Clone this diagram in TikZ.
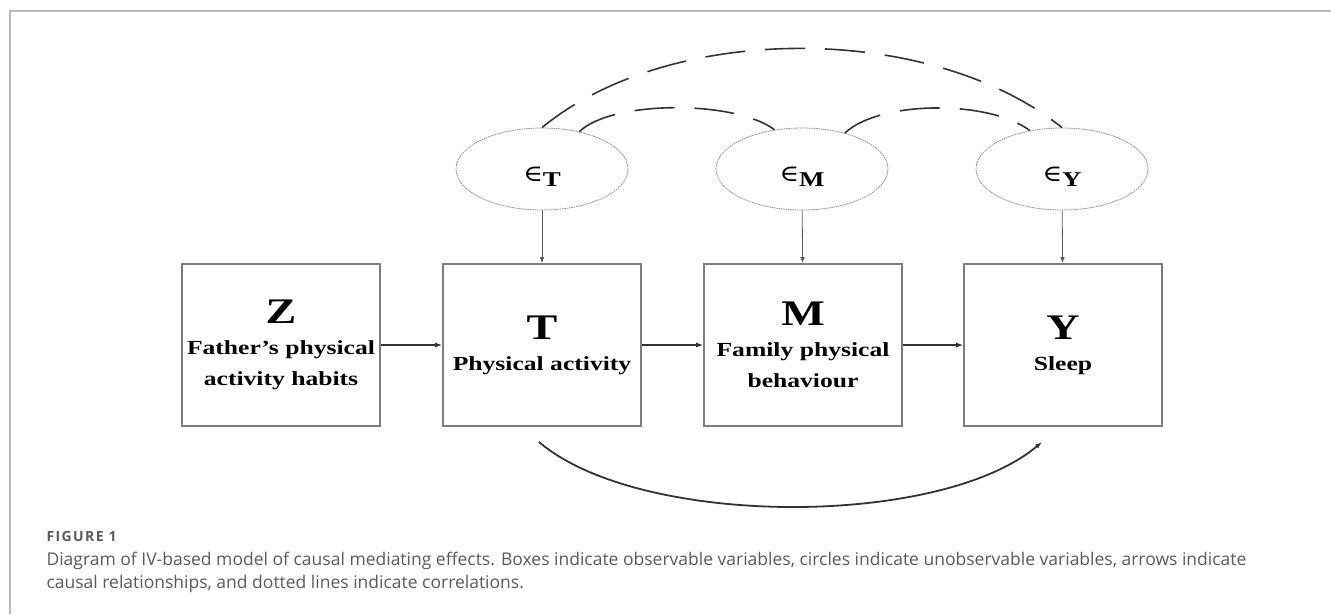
\documentclass[tikz,border=0pt]{standalone}
\usepackage{fontspec}
\setmainfont{Liberation Serif}
\newfontfamily\capfont{Open Sans}
\newfontfamily\labfont{Open Sans}[LetterSpace=10]
\newfontfamily\symfont{DejaVu Serif}
\usepackage{graphicx}
\usepackage{tikz}
\usetikzlibrary{arrows.meta,calc,positioning,shapes.geometric}
\usepackage{xcolor}
\definecolor{framegray}{RGB}{185,185,185}
\definecolor{boxgray}{RGB}{125,125,125}
\definecolor{ringgray}{RGB}{140,140,140}
\definecolor{capgray}{RGB}{90,90,90}
\newcommand{\wide}[1]{\scalebox{1.28}[1]{#1}}
\newcommand{\bigvar}[1]{\wide{\fontsize{36}{31}\selectfont\bfseries #1}}
\newcommand{\errvar}[1]{\scalebox{1.15}[1]{\symfont\fontsize{23}{23}\selectfont ∈}\raisebox{-5pt}{\wide{\fontsize{21}{21}\selectfont\bfseries #1}}}

\begin{document}
\begin{tikzpicture}[x=1pt, y=-1pt,
  obsbox/.style={draw=boxgray, line width=1.6pt, rectangle, minimum width=198pt,
    minimum height=162pt, inner sep=0pt, align=center,
    font=\fontsize{20}{31}\selectfont\bfseries},
  errnode/.style={draw=ringgray, line width=0.8pt, dash pattern=on 1.5pt off 0.8pt,
    ellipse, minimum width=172pt, minimum height=82pt, inner sep=0pt,
    text height=26pt, text depth=2pt},
  causal/.style={-{Latex[length=7pt,width=5pt]}, line width=1.2pt, draw=black!80},
  errarrow/.style={-{Latex[length=6pt,width=4.5pt]}, line width=0.8pt, draw=black!65},
  corr/.style={line width=1.6pt, draw=black!80, dash pattern=on 40pt off 20pt}]
  \useasboundingbox (0,0) rectangle (1331,614);

  % Panel frame
  \draw[framegray, line width=2pt] (9.5,614) -- (9.5,11) -- (1331,11);

  % Observed variables (boxes)
  \node[obsbox] (Z) at (281,345) {\bigvar{Z}\\\wide{Father's physical}\\\wide{activity habits}};
  \node[obsbox] (T) at (542,345) {\bigvar{T}\\\wide{Physical activity}};
  \node[obsbox] (M) at (803,345) {\bigvar{M}\\\wide{Family physical}\\\wide{behaviour}};
  \node[obsbox] (Y) at (1063,345) {\bigvar{Y}\\\wide{Sleep}};

  % Unobserved error terms (circles)
  \node[errnode] (eT) at (542,169) {\errvar{T}};
  \node[errnode] (eM) at (802,169) {\errvar{M}};
  \node[errnode] (eY) at (1062,169) {\errvar{Y}};

  % Causal arrows
  \draw[causal] (Z) -- (T);
  \draw[causal] (T) -- (M);
  \draw[causal] (M) -- (Y);
  \draw[errarrow] (eT) -- (T);
  \draw[errarrow] (eM) -- (M);
  \draw[errarrow] (eY) -- (Y);

  % Correlations between error terms
  \draw[corr] (eT.north) .. controls (670,22) and (930,22) .. (eY.north);
  \draw[corr] (eT.45) .. controls (612,100) and (735,100) .. (eM.125);
  \draw[corr] (eM.40) .. controls (880,100) and (990,100) .. (eY.130);

  % Direct effect T -> Y under the boxes
  \coordinate (dirA) at (539,442);
  \coordinate (dirB) at (1042,442);
  \draw[causal, line width=1.8pt] (dirA) .. controls (640,528) and (940,528) .. (dirB);

  % Caption
  \node[anchor=base west, text=capgray, font=\labfont\bfseries\fontsize{14}{16}\selectfont]
    (figlabel) at (43,541) {FIGURE 1};
  \node[anchor=base west, text=capgray, font=\capfont\fontsize{17.5}{23}\selectfont]
    (capA) at (43,565) {Diagram of IV-based model of causal mediating effects. Boxes indicate observable variables, circles indicate unobservable variables, arrows indicate};
  \node[anchor=base west, text=capgray, font=\capfont\fontsize{17.5}{23}\selectfont]
    (capB) at (43,588) {causal relationships, and dotted lines indicate correlations.};
\end{tikzpicture}
\end{document}
